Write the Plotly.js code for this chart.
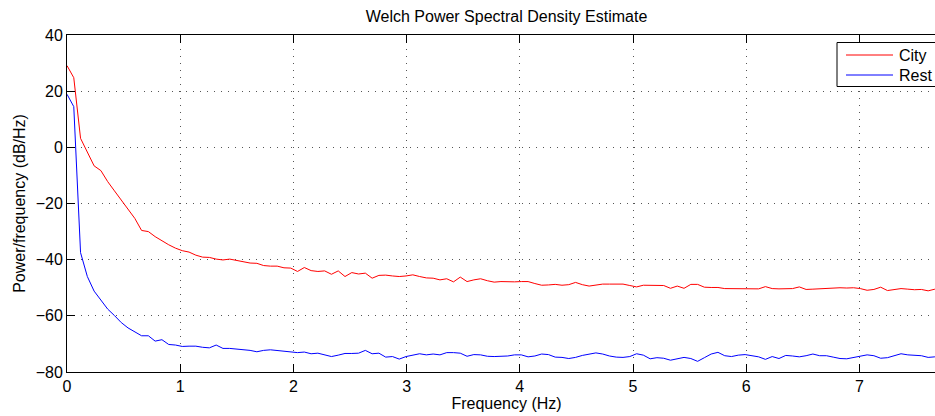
<!DOCTYPE html>
<html>
<head>
<meta charset="utf-8">
<script src="https://cdn.plot.ly/plotly-3.0.1.min.js"></script>
<style>
  html, body { margin: 0; padding: 0; background: #fff; overflow: hidden; }
  #wrap { width: 935px; height: 416px; overflow: hidden; }
  #chart { width: 946px; height: 416px; }
</style>
</head>
<body>
<div id="wrap"><div id="chart"></div></div>
<script>
// Frequency bin spacing of the Welch estimate (Hz) and number of bins
const binStep = 0.0599;
const binCount = 129;

// Power/frequency (dB/Hz), one value per frequency bin
const cityPsd = [
  29.1, 24.8, 3.2, -1.5, -6.6, -8.3, -12.2, -15.5, -18.8, -22.0,
  -25.3, -29.6, -30.0, -31.8, -33.4, -34.7, -35.9, -36.8, -37.3, -38.4,
  -39.1, -39.2, -39.8, -40.1, -39.8, -40.3, -40.9, -41.2, -41.3, -42.1,
  -42.3, -42.3, -42.9, -43.0, -44.2, -42.8, -43.9, -44.2, -44.0, -45.2,
  -44.0, -46.0, -44.6, -45.1, -44.8, -46.6, -45.6, -45.5, -45.8, -46.0,
  -45.8, -45.4, -46.0, -46.5, -46.6, -47.2, -46.8, -47.9, -46.2, -47.8,
  -47.2, -46.8, -47.5, -48.0, -47.8, -47.9, -47.9, -47.8, -47.8, -48.5,
  -49.1, -49.0, -48.8, -49.1, -48.9, -48.1, -48.9, -49.4, -49.0, -48.7,
  -48.7, -48.7, -48.7, -49.2, -49.7, -49.1, -49.1, -49.3, -49.2, -50.2,
  -49.4, -50.2, -48.8, -48.8, -49.8, -49.9, -49.9, -50.3, -50.3, -50.4,
  -50.5, -50.3, -50.4, -49.6, -50.3, -50.4, -50.4, -50.3, -49.7, -50.6,
  -50.5, -50.4, -50.3, -50.0, -50.0, -50.1, -50.0, -50.3, -50.9, -50.6,
  -49.8, -51.0, -50.7, -50.3, -50.5, -50.7, -50.6, -51.1, -50.5
];

const restPsd = [
  18.9, 14.5, -37.5, -46.0, -51.2, -54.5, -57.6, -59.9, -62.4, -64.3,
  -65.6, -67.1, -67.1, -69.0, -68.5, -70.2, -70.4, -70.9, -70.8, -70.8,
  -71.2, -71.4, -70.4, -71.6, -71.6, -71.8, -71.9, -72.3, -72.8, -72.3,
  -72.1, -72.3, -72.6, -72.7, -73.1, -72.9, -73.5, -73.3, -73.9, -74.5,
  -74.0, -73.4, -73.4, -73.3, -72.3, -73.5, -73.3, -74.7, -74.5, -75.4,
  -74.5, -73.9, -73.5, -73.9, -73.6, -73.9, -73.1, -73.1, -73.3, -74.4,
  -73.8, -73.9, -74.4, -74.5, -74.5, -74.3, -73.9, -73.9, -74.6, -74.3,
  -73.6, -73.8, -74.7, -74.8, -75.2, -74.8, -74.1, -73.6, -73.2, -73.6,
  -74.3, -74.7, -74.8, -74.5, -73.5, -74.0, -75.3, -74.9, -75.1, -75.8,
  -75.2, -74.8, -75.2, -76.2, -74.9, -73.6, -73.0, -74.2, -74.5, -74.0,
  -73.8, -74.2, -74.6, -75.5, -74.5, -75.2, -74.1, -74.3, -74.6, -74.2,
  -73.6, -74.2, -74.2, -74.7, -75.2, -75.3, -74.9, -74.5, -73.9, -74.2,
  -75.1, -74.9, -74.1, -73.5, -73.9, -74.1, -74.2, -74.8, -74.6
];

const seriesNames = ['City', 'Rest'];
const seriesColors = ['#ff0000', '#0000ff'];
const xTicks = [0, 1, 2, 3, 4, 5, 6, 7];
const yTicks = [-80, -60, -40, -20, 0, 20, 40];

const freq = [];
for (let i = 0; i < binCount; i++) freq.push(i * binStep);

const font = 'Liberation Sans, Arial, Helvetica, sans-serif';
const fs = 16;

const traces = [
  { x: freq, y: cityPsd, name: seriesNames[0], type: 'scatter', mode: 'lines',
    line: { color: seriesColors[0], width: 1 } },
  { x: freq, y: restPsd, name: seriesNames[1], type: 'scatter', mode: 'lines',
    line: { color: seriesColors[1], width: 1 } }
];

// MATLAB-style legend box (paper coordinates of the plot area)
const W = 946, H = 416, M = { l: 67, r: 0, t: 35, b: 44 };
const pw = W - M.l - M.r, ph = H - M.t - M.b;
const px = v => (v - M.l) / pw;
const py = v => (H - M.b - v) / ph;

const shapes = [
  { type: 'rect', xref: 'paper', yref: 'paper', layer: 'above',
    x0: px(837), x1: px(941), y0: py(86.5), y1: py(42.5),
    fillcolor: '#ffffff', line: { color: '#000', width: 1 } }
];
const annotations = [];
seriesNames.forEach((name, i) => {
  const rowY = 55 + i * 20;
  shapes.push({ type: 'line', xref: 'paper', yref: 'paper', layer: 'above',
    x0: px(846), x1: px(893), y0: py(rowY), y1: py(rowY),
    line: { color: seriesColors[i], width: 1 } });
  annotations.push({ xref: 'paper', yref: 'paper', x: px(897), y: py(rowY),
    xanchor: 'left', yanchor: 'middle', showarrow: false, text: name,
    font: { family: font, size: fs, color: '#000' } });
});

const axisCommon = {
  showline: true, linecolor: '#000', linewidth: 1, mirror: 'ticks',
  ticks: 'inside', ticklen: 8, tickcolor: '#000', tickwidth: 1,
  showgrid: true, gridcolor: '#555', gridwidth: 1, griddash: '1px,6px',
  zeroline: false, tickfont: { family: font, size: fs, color: '#000' }
};

const layout = {
  width: W, height: H,
  margin: M,
  paper_bgcolor: '#fff', plot_bgcolor: '#fff',
  font: { family: font, size: fs, color: '#000' },
  title: { text: 'Welch Power Spectral Density Estimate', font: { family: font, size: fs, color: '#000' },
           xref: 'paper', x: 0.5, xanchor: 'center', yref: 'container', y: 0.960, yanchor: 'middle' },
  xaxis: Object.assign({}, axisCommon, {
    range: [0, 7.765], tickvals: xTicks, ticktext: xTicks.map(String),
    title: { text: 'Frequency (Hz)', font: { family: font, size: fs, color: '#000' }, standoff: 2 }
  }),
  yaxis: Object.assign({}, axisCommon, {
    range: [-80, 40], tickvals: yTicks,
    title: { text: 'Power/frequency (dB/Hz)', font: { family: font, size: fs, color: '#000' }, standoff: 6 }
  }),
  showlegend: false,
  shapes: shapes,
  annotations: annotations
};

Plotly.newPlot('chart', traces, layout, { staticPlot: true, displayModeBar: false });
</script>
</body>
</html>
